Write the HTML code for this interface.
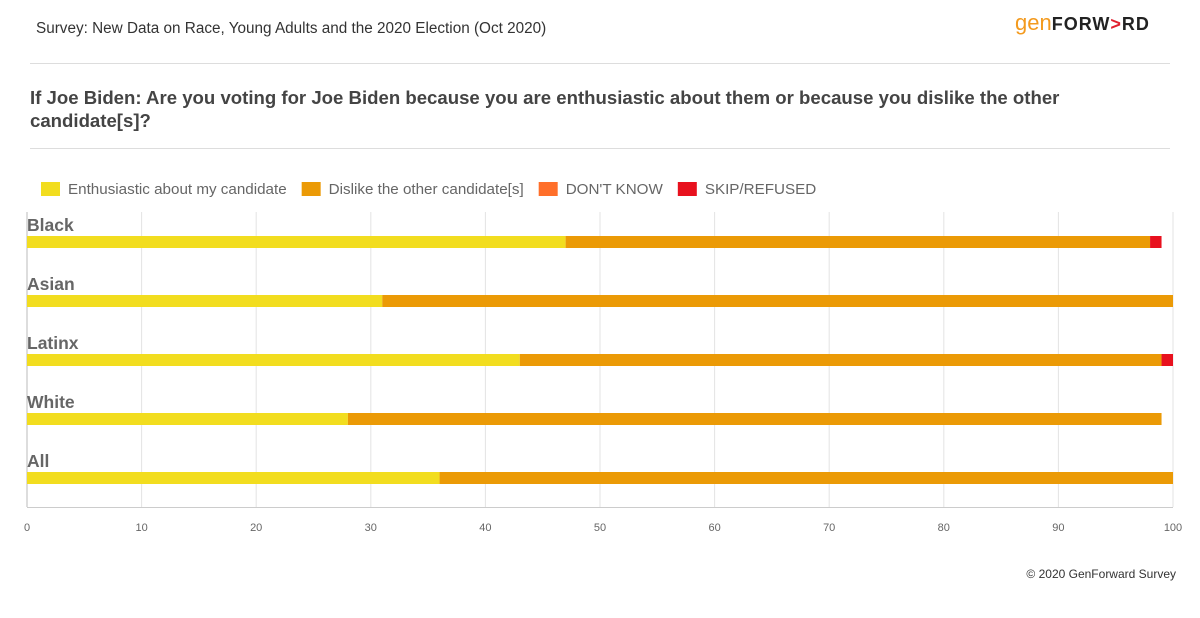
<!DOCTYPE html>
<html><head><meta charset="utf-8"><style>
body{margin:0;background:#fff;font-family:"Liberation Sans",sans-serif;}
#wrap{position:relative;width:1200px;height:618px;overflow:hidden;}
.t{position:absolute;white-space:nowrap;}
</style></head><body>
<div id="wrap">
<div class="t" style="left:36px;top:20px;font-size:15.3px;color:#333;">Survey: New Data on Race, Young Adults and the 2020 Election (Oct 2020)</div>
<div class="t" style="left:1015px;top:10px;font-size:22px;"><span style="color:#f39a1e;font-weight:300;">gen</span><span style="color:#222;font-weight:bold;font-size:18px;letter-spacing:1px;">FORW<span style="color:#e0202e">&gt;</span>RD</span></div>
<div style="position:absolute;left:30px;top:63px;width:1140px;height:1px;background:#ddd;"></div>
<div class="t" style="left:30px;top:86px;width:1120px;white-space:normal;font-size:18.6px;font-weight:bold;color:#444;line-height:23px;">If Joe Biden: Are you voting for Joe Biden because you are enthusiastic about them or because you dislike the other candidate[s]?</div>
<div style="position:absolute;left:30px;top:148px;width:1140px;height:1px;background:#ddd;"></div>
<svg id="svg" width="1200" height="618" style="position:absolute;left:0;top:0;"></svg>
<div class="t" style="right:24px;top:567px;font-size:12px;color:#333;">© 2020 GenForward Survey</div>
</div>
<script>
const categories=["Black","Asian","Latinx","White","All"];
const enthusiastic=[47,31,43,28,36];
const dislike=[51,69,56,71,64];
const dontKnow=[0,0,0,0,0];
const skipped=[1,0,1,0,0];
const ticks=[0,10,20,30,40,50,60,70,80,90,100];
const seriesNames=["Enthusiastic about my candidate","Dislike the other candidate[s]","DON'T KNOW","SKIP/REFUSED"];
const colors=["#f2dd1f","#eb9a06","#ff6f2a","#e8111e"];
const svg=document.getElementById('svg');const NS='http://www.w3.org/2000/svg';
function x(v){return 27+v*11.46;}
function y(i){return 236+i*59;}
function mk(t,a,p){const e=document.createElementNS(NS,t);for(const k in a)e.setAttribute(k,a[k]);(p||svg).appendChild(e);return e;}
ticks.forEach(t=>{
 const g=mk('line',{x1:x(t),x2:x(t),y1:212,y2:507,stroke:t===0?'#bbb':'#e3e3e3','stroke-width':1});
 
 
 const l=mk('text',{x:x(t),y:531,'text-anchor':'middle','font-size':11,fill:'#666','font-family':'Liberation Sans, sans-serif'});
 l.textContent=t;
 
 
});
const ax=mk('line',{x1:27,x2:1173,y1:507.5,y2:507.5,stroke:'#ccc'});


const series=[enthusiastic,dislike,dontKnow,skipped];
categories.forEach((c,i)=>{
 const lb=mk('text',{x:27,y:y(i)-5,'font-size':17.5,'font-weight':'bold',fill:'#666','font-family':'Liberation Sans, sans-serif'});
 lb.textContent=c;
 
 
 let acc=0;
 series.forEach((s,j)=>{
  const v=s[i];
  if(v>0){const r=mk('rect',{x:x(acc),y:y(i),width:x(acc+v)-x(acc),height:12,fill:colors[j]});
  
  }
  acc+=v;
 });
});
let lx=41;
seriesNames.forEach((n,j)=>{
 const r=mk('rect',{x:lx,y:182,width:19,height:14,fill:colors[j]});
 
 
 const t=mk('text',{x:lx+27,y:194,'font-size':15.2,fill:'#666','font-family':'Liberation Sans, sans-serif'});
 t.textContent=n;
 
 
 lx+=27+t.getComputedTextLength()+15;
});
</script>
</body></html>
